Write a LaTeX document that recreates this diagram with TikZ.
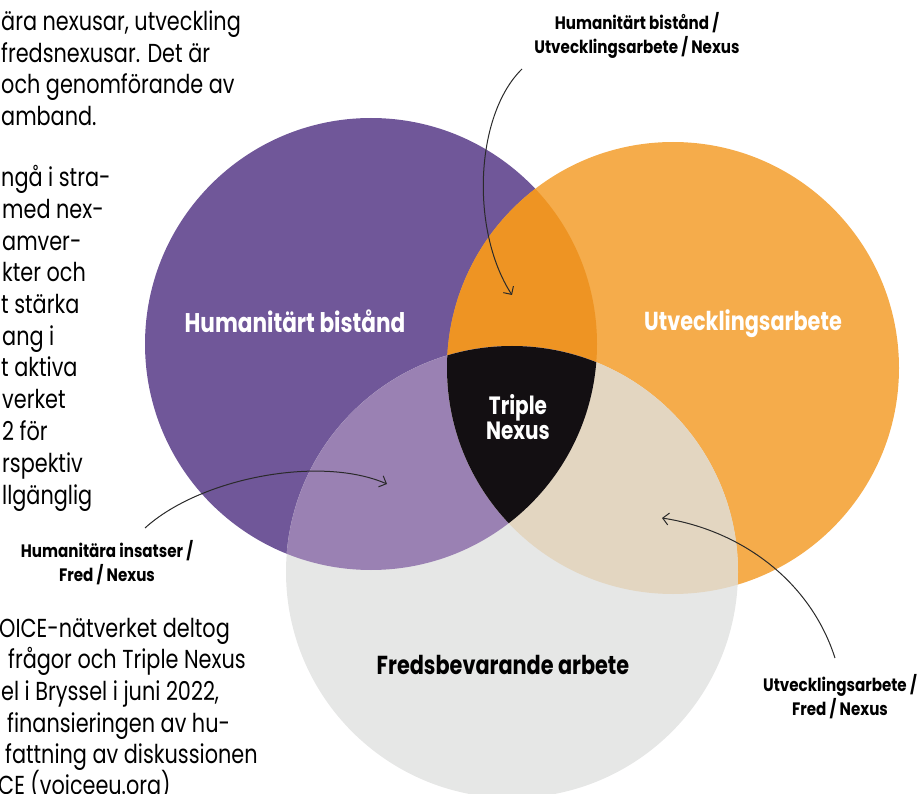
\documentclass[tikz,border=0pt]{standalone}
\usepackage{fontspec}
\setmainfont{Poppins}
\newfontfamily\bodyfont{Poppins}[FakeStretch=0.8]
\newfontfamily\labfont{Poppins}[FakeStretch=0.8]
\newfontfamily\smallfont{Poppins}[FakeStretch=0.84]
\usetikzlibrary{arrows.meta}
\definecolor{hpurple}{HTML}{705799}
\definecolor{dorange}{HTML}{F5AC4B}
\definecolor{fgrey}{HTML}{E6E7E6}
\definecolor{hdover}{HTML}{EE9423}
\definecolor{hfover}{HTML}{9A81B3}
\definecolor{dfover}{HTML}{E3D6C1}
\definecolor{tripleblk}{HTML}{130F12}
\definecolor{arrowcol}{HTML}{2A2A2A}
\tikzset{
  bodyline/.style={anchor=base west, inner sep=0pt, font=\bodyfont\fontsize{26}{30}\selectfont, text=black},
  biglabel/.style={inner sep=0pt, font=\labfont\bfseries\fontsize{27}{30}\selectfont},
  smalllabel/.style={inner sep=0pt, align=center, font=\smallfont\bfseries\fontsize{18}{24}\selectfont, text=black},
  pointer/.style={draw=arrowcol, line width=1pt, -{Straight Barb[length=6pt,width=12pt,line width=1pt]}}
}
\begin{document}
\begin{tikzpicture}[x=1pt,y=-1pt]
\useasboundingbox (0,0) rectangle (922,794);
\clip (0,0) rectangle (922,794);
\coordinate (cH) at (371,344);
\coordinate (cD) at (673,368);
\coordinate (cF) at (512,572);
% circles
\fill[hpurple] (cH) circle [radius=226pt];
\fill[dorange] (cD) circle [radius=226pt];
\fill[fgrey] (cF) circle [radius=226pt];
\begin{scope}
  \clip (cH) circle [radius=226pt];
  \fill[hdover] (cD) circle [radius=226pt];
\end{scope}
\begin{scope}
  \clip (cH) circle [radius=226pt];
  \fill[hfover] (cF) circle [radius=226pt];
\end{scope}
\begin{scope}
  \clip (cD) circle [radius=226pt];
  \fill[dfover] (cF) circle [radius=226pt];
\end{scope}
\begin{scope}
  \clip (cH) circle [radius=226pt];
  \clip (cD) circle [radius=226pt];
  \fill[tripleblk] (cF) circle [radius=226pt];
\end{scope}
% big labels
\node[biglabel, text=white] (hum) at (295,321) {Humanitärt bistånd};
\node[biglabel, text=white, font=\labfont\bfseries\fontsize{26}{30}\selectfont] (utv) at (743,324) {Utvecklingsarbete};
\node[biglabel, text=black, font=\labfont\bfseries\fontsize{26}{30}\selectfont] (fred) at (503,665) {Fredsbevarande arbete};
\node[biglabel, text=white, align=center, font=\labfont\bfseries\fontsize{25}{23}\selectfont] (triple) at (518,417) {Triple\\Nexus};
% small labels
\node[smalllabel] (lhu) at (637,35) {Humanitärt bistånd /\\Utvecklingsarbete / Nexus};
\node[smalllabel] (lhf) at (107,563) {Humanitära insatser /\\Fred / Nexus};
\node[smalllabel] (luf) at (840,697) {Utvecklingsarbete /\\Fred / Nexus};
% pointers
\coordinate (a1s) at (522,69);
\coordinate (a1e) at (512,295);
\coordinate (a2s) at (145,528);
\coordinate (a2e) at (387,484);
\coordinate (a3s) at (835,658);
\coordinate (a3e) at (662,518);
\draw[pointer] (a1s) .. controls (475,115) and (470,230) .. (a1e);
\draw[pointer] (a2s) .. controls (200,478) and (320,455) .. (a2e);
\draw[pointer] (a3s) .. controls (810,580) and (740,530) .. (a3e);
% body text (cropped column)
\node[bodyline] (t1) at (1,31) {ära nexusar, utveckling};
\node[bodyline] (t2) at (1,62.5) {fredsnexusar. Det är};
\node[bodyline] (t3) at (1,94) {och genomförande av};
\node[bodyline] (t4) at (1,126) {amband.};
\node[bodyline] (m1) at (1,187) {ngå i stra-};
\node[bodyline] (m2) at (2,218.7) {med nex-};
\node[bodyline] (m3) at (2,250.4) {amver-};
\node[bodyline] (m4) at (2,282) {kter och};
\node[bodyline] (m5) at (1,313.8) {t stärka};
\node[bodyline] (m6) at (2,345.5) {ang i};
\node[bodyline] (m7) at (1,377) {t aktiva};
\node[bodyline] (m8) at (2,409) {verket};
\node[bodyline] (m9) at (2,440.6) {2 för};
\node[bodyline] (m10) at (2,472) {rspektiv};
\node[bodyline] (m11) at (2,504) {llgänglig};
\node[bodyline] (b1) at (-1,637) {OICE-nätverket deltog};
\node[bodyline] (b2) at (8,668) {frågor och Triple Nexus};
\node[bodyline] (b3) at (1,700) {el i Bryssel i juni 2022,};
\node[bodyline] (b4) at (7,732) {finansieringen av hu-};
\node[bodyline] (b5) at (5,763) {fattning av diskussionen};
\node[bodyline] (b6) at (-2,794) {CE (voiceeu.org)};
\end{tikzpicture}
\end{document}
